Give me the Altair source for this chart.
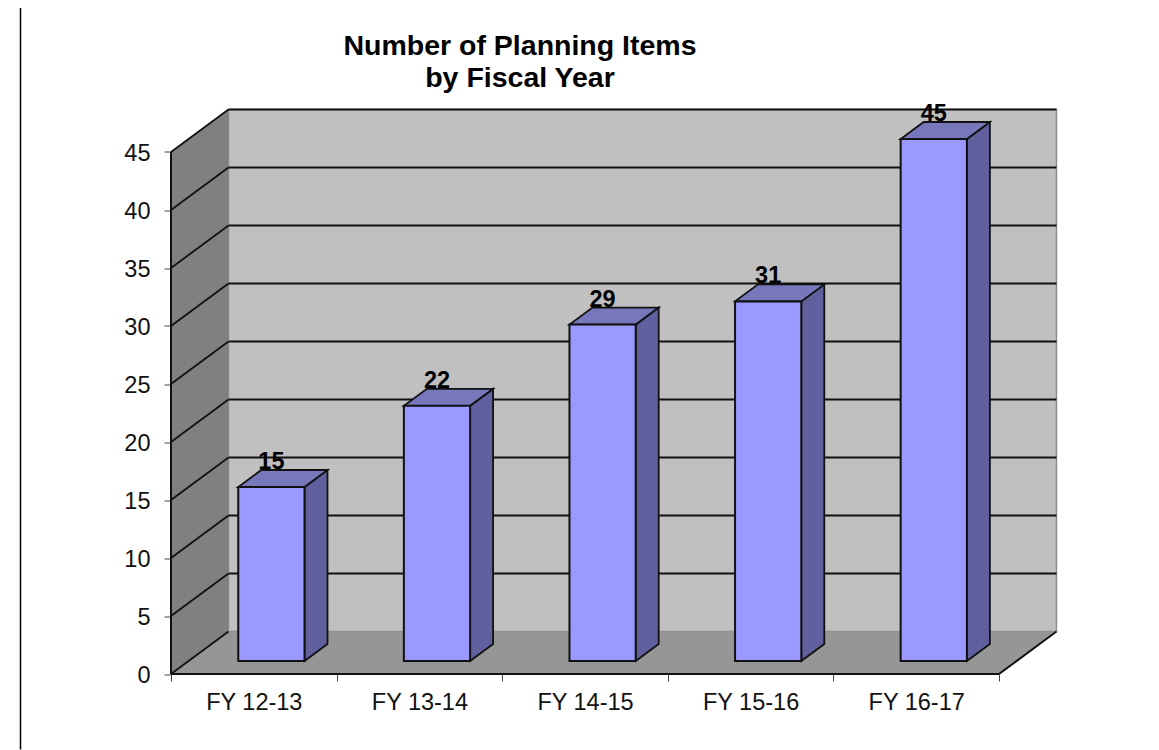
import json
import altair as alt
import pandas as pd

categories = ["FY 12-13", "FY 13-14", "FY 14-15", "FY 15-16", "FY 16-17"]
values = [15, 22, 29, 31, 45]
y_ticks = [0, 5, 10, 15, 20, 25, 30, 35, 40, 45]

# 3-D projection, in axis units
DX = 0.347      # slots per full depth
DY = 3.664      # value units per full depth
TOP = 45
N = len(categories)
BAR_W = 0.40
D0, D1 = 0.306, 0.706  # bar depth extent

X_MAX = 887 / 165.6
Y_MAX = 565.5 / 11.6
FONT = "Liberation Sans"
FS = 23.5
INK = "#111111"

xscale = alt.Scale(domain=[0, X_MAX], range=[0, 887], nice=False, zero=False)
yscale = alt.Scale(domain=[0, Y_MAX], range=[565.5, 0], nice=False, zero=False)
label_array = json.dumps(categories + [""])
xaxis = alt.Axis(values=list(range(N + 1)), labelExpr=f"{label_array}[datum.value]",
                 labelOffset=82.8, labelOverlap=False, labelFlush=False, grid=False, domain=False,
                 tickSize=7, tickColor="#444444", tickWidth=1, labelFont=FONT, labelFontSize=FS,
                 labelColor=INK, labelPadding=9, labelBaseline="top", title=None)
yaxis = alt.Axis(values=y_ticks, grid=False, domain=False, tickSize=7, tickColor="#444444", tickWidth=1,
                 labelFont=FONT, labelFontSize=FS, labelColor=INK, labelPadding=14, labelOffset=1,
                 format="d", title=None)


def X(f):
    return alt.X(f, type="quantitative", scale=xscale, axis=xaxis, title=None)


def Y(f):
    return alt.Y(f, type="quantitative", scale=yscale, axis=yaxis, title=None, stack=None)


def face(rows):
    return pd.DataFrame(rows, columns=["id", "x", "lo", "hi"])


def area(df, fill, stroke=None, sw=1.5):
    kw = dict(fill=fill, orient="vertical", clip=False)
    if stroke:
        kw.update(stroke=stroke, strokeWidth=sw, strokeJoin="miter")
    return alt.Chart(df).mark_area(**kw).encode(
        x=X("x"), y=Y("lo"), y2=alt.Y2("hi"), detail="id:N")


# walls and floor
back = pd.DataFrame({"x": [DX], "x2": [DX + N], "lo": [DY], "hi": [DY + TOP]})
back_wall = alt.Chart(back).mark_rect(fill="#c0c0c0", stroke="#8c8c8c", strokeWidth=1.5).encode(
    x=X("x"), x2=alt.X2("x2"), y=Y("lo"), y2=alt.Y2("hi"))
left_wall = area(face([(0, 0, 0, TOP), (0, DX, DY, DY + TOP)]), "#808080")
floor = area(face([(0, 0, 0, 0), (0, DX, 0, DY), (0, N, 0, DY), (0, N + DX, DY, DY)]), "#969696")

# grid lines on the back wall and the left wall
grid_vals = y_ticks[1:]
grid_back = alt.Chart(pd.DataFrame({"x": DX, "x2": DX + N, "y": [v + DY for v in grid_vals]})).mark_rule(
    color=INK, strokeWidth=2).encode(x=X("x"), x2=alt.X2("x2"), y=Y("y"))
slant_rows = []
for v in y_ticks:
    slant_rows += [{"id": v, "x": 0, "y": v}, {"id": v, "x": DX, "y": v + DY}]
slants = alt.Chart(pd.DataFrame(slant_rows)).mark_line(color=INK, strokeWidth=1.8).encode(
    x=X("x"), y=Y("y"), detail="id:N")

# front edges of the box
edge_rows = [
    {"id": "left", "x": 0, "y": 0}, {"id": "left", "x": 0, "y": TOP},
    {"id": "base", "x": 0, "y": 0}, {"id": "base", "x": N, "y": 0},
    {"id": "diag", "x": N, "y": 0}, {"id": "diag", "x": N + DX, "y": DY},
]
edges = alt.Chart(pd.DataFrame(edge_rows)).mark_line(color=INK, strokeWidth=2).encode(
    x=X("x"), y=Y("y"), detail="id:N")

# bars
front_rows, side_rows, top_rows, label_rows = [], [], [], []
for i, (c, v) in enumerate(zip(categories, values)):
    xl = i + 0.5 - BAR_W / 2 + D0 * DX
    xr = xl + BAR_W
    lo, hi = D0 * DY, D0 * DY + v
    ddx, ddy = (D1 - D0) * DX, (D1 - D0) * DY
    front_rows.append({"x": xl, "x2": xr, "lo": lo, "hi": hi})
    side_rows += [(i, xr, lo, hi), (i, xr + ddx, lo + ddy, hi + ddy)]
    top_rows += [(i, xl, hi, hi), (i, xl + ddx, hi, hi + ddy), (i, xr, hi, hi + ddy), (i, xr + ddx, hi + ddy, hi + ddy)]
    label_rows.append({"x": (xl + xr) / 2, "y": hi + ddy, "t": str(v)})

sides = area(face(side_rows), "#60609f", INK, 1.8)
tops = area(face(top_rows), "#7777bb", INK, 1.8)
fronts = alt.Chart(pd.DataFrame(front_rows)).mark_rect(fill="#9999ff", stroke=INK, strokeWidth=2).encode(
    x=X("x"), x2=alt.X2("x2"), y=Y("lo"), y2=alt.Y2("hi"))
labels = alt.Chart(pd.DataFrame(label_rows)).mark_text(
    font=FONT, fontSize=FS, fontWeight="bold", color="#000000", dy=-8, baseline="middle", align="center"
).encode(x=X("x"), y=Y("y"), text="t:N")

# page frame
frame = alt.Chart(pd.DataFrame({"a": [0]})).mark_rule(color="#000000", strokeWidth=1.5).encode(
    x=alt.value(-150.5), y=alt.value(-101), y2=alt.value(641))

chart = alt.layer(
    back_wall, left_wall, floor, grid_back, slants, edges, sides, tops, fronts, labels, frame
).properties(
    width=887,
    height=565.5,
    autosize="none",
    background="white",
    padding={"left": 163, "top": 100.5, "right": 93, "bottom": 76},
    title=alt.Title(
        text=["Number of Planning Items", "by Fiscal Year"],
        font=FONT, fontSize=28.5, fontWeight="bold", color="#000000",
        anchor="middle", align="center", dx=-94.5, lineHeight=32, offset=-86,
    ),
).configure_view(strokeWidth=0, stroke="transparent")

chart.save("out.html", embed_options={"renderer": "svg", "actions": False})
